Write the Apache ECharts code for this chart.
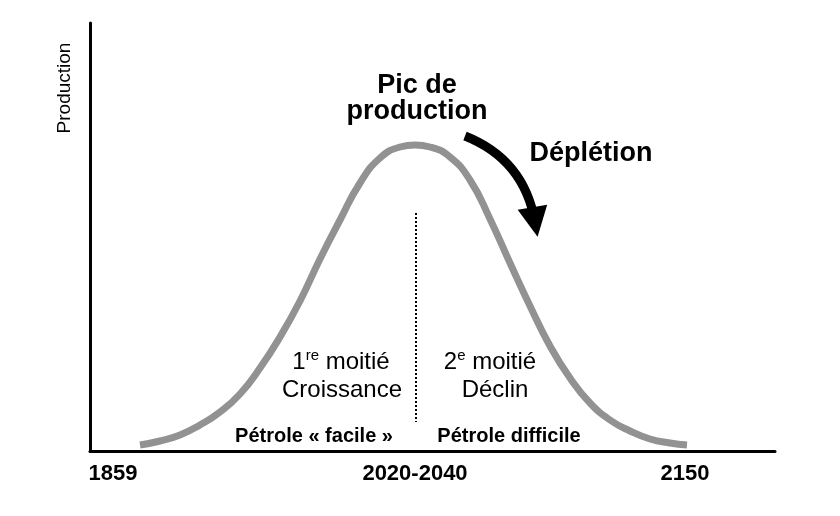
<!DOCTYPE html>
<html><head><meta charset="utf-8">
<script src="https://cdn.jsdelivr.net/npm/echarts@6/dist/echarts.min.js"></script>
<style>html,body{margin:0;padding:0;background:#fff}#c{width:840px;height:516px}</style>
</head><body><div id="c"></div>
<script>
// Time index (abstract units along the x axis) and production (abstract units)
const curveT = [10, 14, 18, 22, 26, 30, 34, 38, 42, 46, 50, 54, 58, 62, 65, 68, 72, 76, 80, 84, 88, 92, 96, 100, 104, 108, 112, 116, 119.4];
const curveProduction = [1.5, 2.5, 4, 6.5, 9.75, 14.25, 20.75, 28.5, 37.5, 48, 57.75, 67, 73.25, 76, 76.5, 76, 73.5, 67.75, 58, 47, 36.25, 26.25, 18.25, 12, 7.75, 5, 3, 2, 1.5];
const tickValues = [4.6, 65, 119];
const tickLabels = ['1859', '2020-2040', '2150'];
const dividerT = [65.2, 65.2];
const dividerY = [59.5, 7.25];
const arrowFrom = [75, 78.75];
const arrowTo = [89, 57.25];

const FONT = 'Liberation Sans, Arial, Helvetica, sans-serif';
const chart = echarts.init(document.getElementById('c'), null, {renderer: 'canvas'});

function txt(text, x, y, size, bold, extra) {
  return Object.assign({
    type: 'text', x: x, y: y, z: 100,
    style: {text: text, fontSize: size, fontWeight: bold ? 'bold' : 'normal', fontFamily: FONT,
      fill: '#000', align: 'center', verticalAlign: 'middle'}
  }, extra || {});
}
function supTxt(base, sup, rest, x, y) {
  return {
    type: 'text', x: x, y: y, z: 100,
    style: {
      text: base + '{s|' + sup + '}' + rest,
      fontSize: 24, fontFamily: FONT, fill: '#000', align: 'center', verticalAlign: 'middle',
      lineHeight: 28,
      rich: {s: {fontSize: 15, fontFamily: FONT, fill: '#000', verticalAlign: 'top', lineHeight: 20}}
    }
  };
}

const option = {
  backgroundColor: '#fff',
  animation: false,
  grid: {left: 90, right: 65, top: 23, bottom: 65},
  xAxis: {
    type: 'value', min: 0, max: 137,
    axisLine: {show: true, onZero: false, lineStyle: {color: '#000', width: 3}},
    axisTick: {show: false},
    splitLine: {show: false},
    axisLabel: {
      customValues: tickValues,
      formatter: function (v) { const i = tickValues.indexOf(v); return i >= 0 ? tickLabels[i] : ''; },
      fontWeight: 'bold', fontSize: 22, fontFamily: FONT, color: '#000', margin: 12
    }
  },
  yAxis: {
    type: 'value', min: 0, max: 107,
    axisLine: {show: true, lineStyle: {color: '#000', width: 3}},
    axisTick: {show: false},
    axisLabel: {show: false},
    splitLine: {show: false}
  },
  series: [
    {
      type: 'line', smooth: 0.5, symbol: 'none',
      data: curveT.map((t, i) => [t, curveProduction[i]]),
      lineStyle: {color: '#929292', width: 7, cap: 'butt'},
      z: 2
    },
    {
      type: 'line', symbol: 'none',
      data: dividerT.map((t, i) => [t, dividerY[i]]),
      lineStyle: {color: '#000', width: 2, type: [2, 2]},
      z: 3
    },
    {
      type: 'lines', coordinateSystem: 'cartesian2d', silent: true,
      symbol: ['none', 'triangle'],
      symbolSize: [28, 30],
      lineStyle: {color: '#000', width: 9, curveness: 0.28, opacity: 1},
      itemStyle: {color: '#000'},
      data: [{coords: [arrowFrom, arrowTo]}],
      z: 4
    }
  ],
  graphic: [
    txt('Production', 65, 88, 19, false, {rotation: Math.PI / 2}),
    txt('Pic de', 417, 86, 27, true),
    txt('production', 417, 112, 27, true),
    txt('Déplétion', 591, 154, 27, true),
    supTxt('1', 're', ' moitié', 341, 362),
    txt('Croissance', 342, 390, 24, false),
    supTxt('2', 'e', ' moitié', 490, 362),
    txt('Déclin', 495, 390, 24, false),
    txt('Pétrole « facile »', 314, 436, 20, true),
    txt('Pétrole difficile', 509, 436, 20, true)
  ]
};
chart.setOption(option);
</script>
</body></html>
